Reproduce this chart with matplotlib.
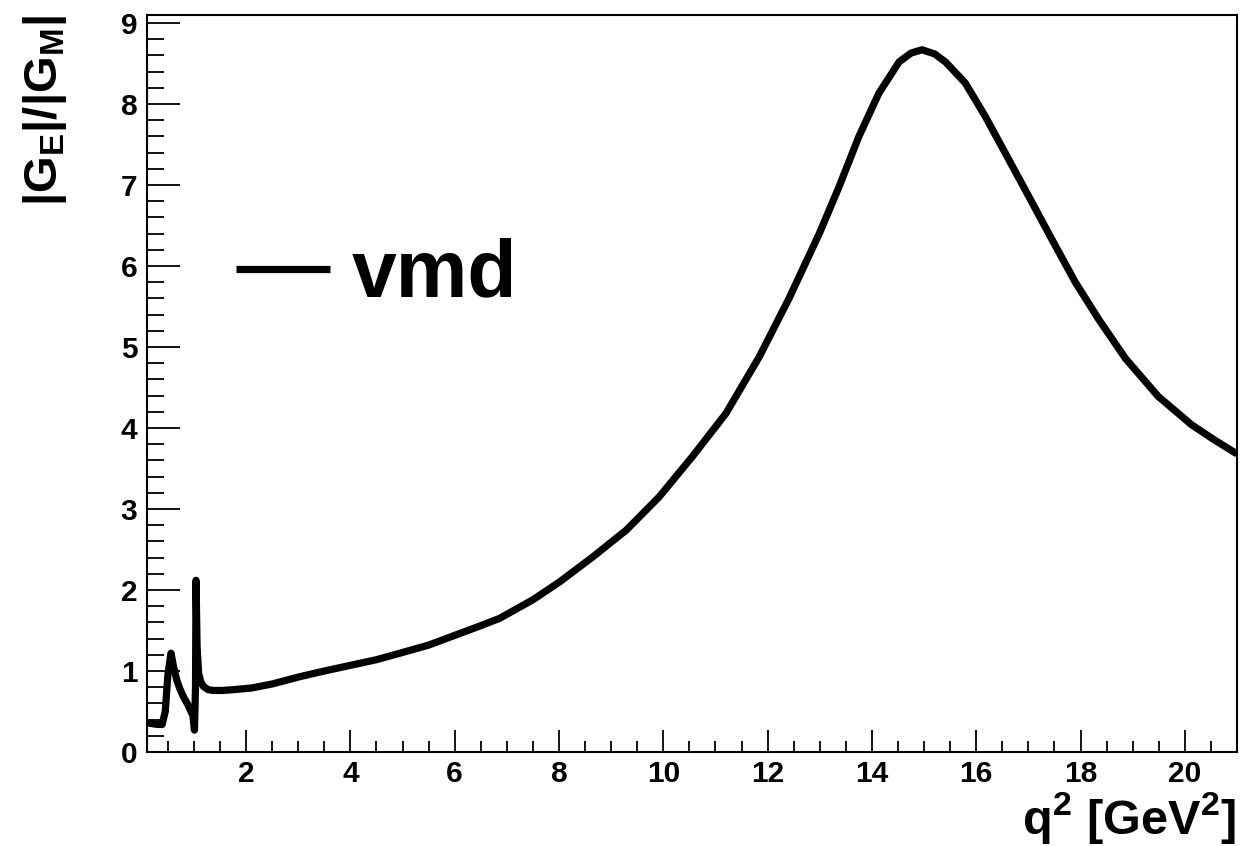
import matplotlib
matplotlib.use('Agg')
import matplotlib.pyplot as plt
from matplotlib.ticker import MultipleLocator

plt.rcParams['font.family'] = 'Liberation Sans'
plt.rcParams['font.weight'] = 'bold'
plt.rcParams['mathtext.fontset'] = 'custom'
plt.rcParams['mathtext.rm'] = 'Liberation Sans:bold'
plt.rcParams['mathtext.it'] = 'Liberation Sans:bold'
plt.rcParams['mathtext.bf'] = 'Liberation Sans:bold'

# |G_E|/|G_M| from the vector meson dominance model, vs q^2 in GeV^2
q2 = [0.10, 0.20, 0.30, 0.39, 0.45, 0.50, 0.56, 0.61, 0.67, 0.73, 0.80,
      0.87, 0.93, 0.98, 1.01, 1.03, 1.04, 1.06, 1.09, 1.13, 1.18, 1.27,
      1.37, 1.55, 1.76, 2.10, 2.50, 3.03, 3.50, 4.00, 4.50, 4.95, 5.50,
      6.00, 6.50, 6.86, 7.50, 8.01, 8.65, 9.29, 9.92, 10.56, 11.20,
      11.84, 12.41, 12.99, 13.37, 13.75, 14.13, 14.52, 14.75, 14.96,
      15.20, 15.41, 15.79, 16.18, 16.56, 16.94, 17.45, 17.90, 18.34,
      18.86, 19.49, 20.13, 20.55, 21.00]
ratio = [0.36, 0.35, 0.34, 0.34, 0.50, 0.95, 1.22, 1.05, 0.89, 0.78, 0.68,
         0.60, 0.52, 0.45, 0.27, 0.80, 2.12, 1.30, 0.97, 0.87, 0.81, 0.77,
         0.76, 0.76, 0.77, 0.79, 0.84, 0.93, 1.00, 1.07, 1.14, 1.22, 1.32,
         1.44, 1.56, 1.65, 1.88, 2.10, 2.41, 2.74, 3.15, 3.65, 4.18,
         4.88, 5.60, 6.40, 6.98, 7.60, 8.13, 8.52, 8.63, 8.67,
         8.62, 8.52, 8.26, 7.84, 7.39, 6.94, 6.33, 5.80, 5.35,
         4.86, 4.39, 4.04, 3.86, 3.68]

fig = plt.figure(figsize=(12.49, 8.46), dpi=100)
ax = fig.add_axes([0.1177, 0.1111, 0.8727, 0.8712])

line, = ax.plot(q2, ratio, color='black', lw=5.2, solid_joinstyle='round',
                solid_capstyle='butt')

ax.set_xlim(0.1, 21)
ax.set_ylim(0, 9.1)

ax.xaxis.set_minor_locator(MultipleLocator(0.5))
ax.yaxis.set_major_locator(MultipleLocator(1))
ax.yaxis.set_minor_locator(MultipleLocator(0.2))
ax.set_xticks([2, 4, 6, 8, 10, 12, 14, 16, 18, 20])
ax.set_xticklabels(['2', '4', '6', '8', '10', '12', '14', '16', '18', '20'])

ax.tick_params(axis='both', which='both', direction='in', width=1.3,
               labelsize=21.5, top=False, right=False)
ax.tick_params(axis='x', which='major', length=16, pad=6)
ax.tick_params(axis='x', which='minor', length=8)
ax.tick_params(axis='y', which='major', length=24, pad=7)
ax.tick_params(axis='y', which='minor', length=12)
for s in ax.spines.values():
    s.set_linewidth(1.5)

fig.text(0.990, 0.0145, r'$\mathrm{q^{2}\ [GeV^{2}]}$', fontsize=35,
         ha='right', va='baseline')
fig.text(0.036, 0.982, r'$\mathrm{|G_{E}|/|G_{M}|}$', fontsize=34,
         rotation=90, ha='center', va='top')

# legend entry drawn as a line plus big bold text
fig.legend([line], ['vmd'], loc='center left',
           bbox_to_anchor=(0.131, 0.674), frameon=False, fontsize=58,
           handlelength=1.17, handletextpad=0.27)

fig.savefig('out.png', dpi=100)
